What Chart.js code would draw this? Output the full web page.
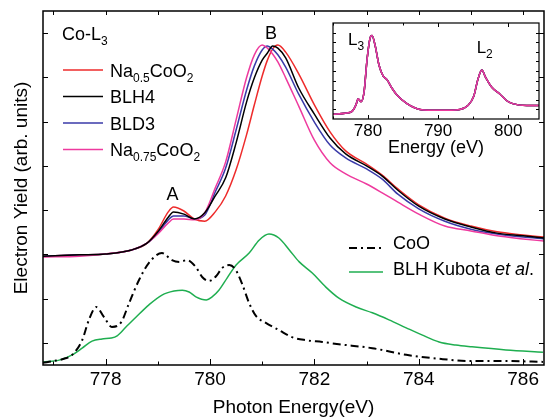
<!DOCTYPE html>
<html>
<head>
<meta charset="utf-8">
<script src="https://cdn.jsdelivr.net/npm/chart.js@4.4.1/dist/chart.umd.min.js"></script>
<style>
  html, body { margin: 0; padding: 0; background: #fff; }
  #wrap { position: relative; width: 549px; height: 419px; }
  #wrap canvas { position: absolute; left: 0; top: 0; }
</style>
</head>
<body>
<div id="wrap">
  <canvas id="main" width="549" height="419"></canvas>
  <canvas id="inset" width="549" height="419"></canvas>
</div>
<script>
// photon energy grid (eV) for the four Co-L3 spectra
const energy = [776.8, 777.5, 778.0, 778.5, 778.8, 779.0, 779.2, 779.3, 779.5, 779.7,
  779.9, 780.1, 780.3, 780.5, 780.7, 780.85, 781.0, 781.1, 781.2, 781.3,
  781.45, 781.7, 782.0, 782.3, 782.6, 783.0, 783.3, 783.6, 784.0, 784.5,
  785.0, 785.5, 786.0, 786.4];
const na05 = [1.96, 1.99, 2.01, 2.10, 2.26, 2.55, 2.96, 3.07, 2.98, 2.80,
  2.75, 2.96, 3.32, 3.91, 4.70, 5.38, 6.03, 6.39, 6.64, 6.73,
  6.57, 6.08, 5.38, 4.77, 4.34, 4.04, 3.79, 3.48, 3.12, 2.82,
  2.64, 2.51, 2.44, 2.39];
const blh4 = [1.96, 1.99, 2.01, 2.10, 2.26, 2.51, 2.84, 2.96, 2.91, 2.80,
  2.94, 3.32, 3.73, 4.52, 5.44, 5.99, 6.39, 6.55, 6.71, 6.66,
  6.44, 5.76, 5.17, 4.63, 4.27, 4.00, 3.77, 3.45, 3.09, 2.80,
  2.62, 2.48, 2.42, 2.37];
const bld3 = [1.96, 1.99, 2.01, 2.10, 2.26, 2.48, 2.78, 2.87, 2.87, 2.80,
  2.89, 3.41, 3.95, 4.81, 5.71, 6.26, 6.62, 6.71, 6.64, 6.51,
  6.23, 5.62, 4.99, 4.47, 4.18, 3.93, 3.70, 3.36, 3.03, 2.75,
  2.57, 2.46, 2.39, 2.35];
const na075 = [1.94, 1.96, 2.01, 2.10, 2.26, 2.46, 2.71, 2.80, 2.80, 2.78,
  2.94, 3.50, 4.09, 5.04, 5.99, 6.51, 6.73, 6.66, 6.53, 6.35,
  5.99, 5.35, 4.58, 4.07, 3.82, 3.59, 3.39, 3.18, 2.91, 2.64,
  2.53, 2.42, 2.35, 2.30];

// CoO reference
const cooEnergy = [776.8, 777.01, 777.2, 777.36, 777.55, 777.68, 777.82, 777.97, 778.12, 778.3,
  778.45, 778.64, 778.83, 779.08, 779.27, 779.41, 779.56, 779.73, 779.85, 779.98,
  780.12, 780.23, 780.37, 780.48, 780.61, 780.75, 780.88, 781.07, 781.32, 781.57,
  781.84, 782.15, 782.47, 783.11, 783.76, 784.39, 785.02, 785.67, 786.38];
const cooYield = [-0.45, -0.41, -0.36, -0.27, 0.06, 0.52, 0.81, 0.58, 0.36, 0.47,
  0.90, 1.42, 1.81, 2.03, 1.87, 1.83, 1.87, 1.71, 1.49, 1.40,
  1.51, 1.69, 1.76, 1.67, 1.35, 0.90, 0.61, 0.45, 0.29, 0.13,
  0.06, 0.02, -0.03, -0.12, -0.27, -0.36, -0.41, -0.41, -0.43];

// BLH, Kubota et al.
const kubotaEnergy = [776.8, 777.11, 777.36, 777.55, 777.74, 777.93, 778.11, 778.22, 778.39, 778.58,
  778.83, 779.08, 779.31, 779.47, 779.6, 779.73, 779.93, 780.04, 780.17, 780.33,
  780.5, 780.75, 780.94, 781.13, 781.32, 781.52, 781.71, 781.96, 782.22, 782.47,
  782.8, 783.11, 783.43, 783.76, 784.06, 784.39, 784.71, 785.02, 785.67, 786.38];
const kubotaYield = [-0.43, -0.39, -0.27, -0.12, 0.04, 0.09, 0.11, 0.16, 0.36, 0.58,
  0.86, 1.08, 1.17, 1.19, 1.15, 1.04, 0.97, 1.04, 1.19, 1.47,
  1.76, 2.03, 2.32, 2.46, 2.37, 2.10, 1.83, 1.58, 1.26, 1.01,
  0.81, 0.68, 0.52, 0.34, 0.18, 0.02, -0.05, -0.09, -0.16, -0.21];

// inset: full L3/L2 edge
const insetEnergy = [775.0, 776.73, 777.72, 778.29, 778.58, 779.0, 779.43, 779.86, 780.28, 780.57,
  781.0, 781.57, 782.14, 782.7, 783.42, 784.13, 785.56, 787.41, 790.26, 793.1,
  794.25, 795.1, 795.67, 796.24, 796.8, 797.66, 798.8, 799.8, 800.65, 802.65, 804.36];
const insetYield = [0.05, 0.06, 0.08, 0.15, 0.21, 0.18, 0.28, 0.62, 0.84, 0.87,
  0.77, 0.56, 0.45, 0.41, 0.32, 0.25, 0.16, 0.10, 0.09, 0.10,
  0.14, 0.24, 0.41, 0.51, 0.43, 0.33, 0.26, 0.19, 0.16, 0.14, 0.14];

const xTicks = [778, 780, 782, 784, 786];
const yTicks = [0, 1, 2, 3, 4, 5, 6, 7];
const insetTicks = [780, 790, 800];

const FONT = "'Liberation Sans', Arial, Helvetica, sans-serif";
Chart.defaults.font.family = FONT;
Chart.defaults.color = '#000';

const RED = '#ee2b2b', BLACK = '#000000', BLUE = '#3a3aa8', PINK = '#ee3a9e', GREEN = '#1fae50';

const pts = (xs, ys) => xs.map((x, i) => ({x: x, y: ys[i]}));

// text with _{sub} and *italic* parts
function drawRich(ctx, str, x, y, size) {
  const re = /_\{([^}]*)\}|\*([^*]*)\*|([^_*]+)/g;
  let m;
  while ((m = re.exec(str))) {
    let text, dy = 0;
    if (m[1] !== undefined) {
      text = m[1]; ctx.font = Math.round(size * 0.68) + 'px ' + FONT; dy = size * 0.3;
    } else if (m[2] !== undefined) {
      text = m[2]; ctx.font = 'italic ' + size + 'px ' + FONT;
    } else {
      text = m[3]; ctx.font = size + 'px ' + FONT;
    }
    ctx.fillText(text, x, y + dy);
    x += ctx.measureText(text).width;
  }
}

function frame(o) {
  return {
    id: 'frame',
    beforeDatasetsDraw(chart) {
      if (!o.fill) return;
      const a = chart.chartArea, ctx = chart.ctx;
      ctx.save();
      ctx.fillStyle = '#fff';
      ctx.fillRect(a.left, a.top, a.right - a.left, a.bottom - a.top);
      ctx.restore();
    },
    afterDatasetsDraw(chart) {
      const {ctx, chartArea: a} = chart;
      const x = chart.scales.x, y = chart.scales.y;
      ctx.save();
      ctx.strokeStyle = '#000';
      ctx.lineWidth = o.lw;
      ctx.strokeRect(a.left, a.top, a.right - a.left, a.bottom - a.top);
      ctx.lineWidth = 1;
      ctx.beginPath();
      o.bottom.forEach(([v, len]) => {
        const p = Math.round(x.getPixelForValue(v)) + 0.5;
        ctx.moveTo(p, a.bottom); ctx.lineTo(p, a.bottom - len);
      });
      o.top.forEach(([v, len]) => {
        const p = Math.round(x.getPixelForValue(v)) + 0.5;
        ctx.moveTo(p, a.top); ctx.lineTo(p, a.top + len);
      });
      o.side.forEach(([v, len]) => {
        const p = Math.round(y.getPixelForValue(v)) + 0.5;
        ctx.moveTo(a.left, p); ctx.lineTo(a.left + len, p);
        ctx.moveTo(a.right, p); ctx.lineTo(a.right - len, p);
      });
      ctx.stroke();
      ctx.restore();
    }
  };
}

const mainLegend = {
  id: 'mainLegend',
  afterDraw(chart) {
    const ctx = chart.ctx, ds = chart.data.datasets;
    const x = chart.scales.x, y = chart.scales.y;
    ctx.save();
    ctx.fillStyle = '#000';
    ctx.textBaseline = 'alphabetic';
    ctx.textAlign = 'left';
    drawRich(ctx, 'Co-L_{3}', 62, 40, 18);
    const rows = [[0, 70], [1, 96.5], [2, 123], [3, 149.5]];
    const lower = [[4, 248], [5, 272]];
    const sample = (d, x0, x1, yy) => {
      ctx.save();
      ctx.strokeStyle = d.borderColor;
      ctx.lineWidth = d.borderWidth || 1.5;
      ctx.setLineDash(d.borderDash || []);
      ctx.beginPath(); ctx.moveTo(x0, yy); ctx.lineTo(x1, yy); ctx.stroke();
      ctx.restore();
    };
    rows.forEach(([i, yy]) => {
      sample(ds[i], 63, 103, yy);
      drawRich(ctx, ds[i].label, 110, yy + 6.5, 18);
    });
    lower.forEach(([i, yy], k) => {
      sample(ds[i], 349, 383, yy);
      drawRich(ctx, ds[i].label, 393, k === 0 ? yy + 1 : yy + 3, 18);
    });
    // peak labels
    ctx.font = '18px ' + FONT;
    ctx.textAlign = 'center';
    ctx.fillText('A', x.getPixelForValue(779.28), y.getPixelForValue(3.23));
    ctx.fillText('B', x.getPixelForValue(781.17), y.getPixelForValue(6.87));
    ctx.restore();
  }
};

const insetLabels = {
  id: 'insetLabels',
  afterDraw(chart) {
    const ctx = chart.ctx, x = chart.scales.x, y = chart.scales.y;
    ctx.save();
    ctx.fillStyle = '#000';
    ctx.textAlign = 'left';
    drawRich(ctx, 'L_{3}', x.getPixelForValue(777.15), y.getPixelForValue(0.77), 17);
    drawRich(ctx, 'L_{2}', x.getPixelForValue(795.5), y.getPixelForValue(0.69), 17);
    ctx.restore();
  }
};

const mainTicksBottom = [];
const mainTicksTop = [];
for (let e = 777; e <= 786; e++) {
  mainTicksBottom.push([e, e % 2 === 0 ? 6 : 3.5]);
  mainTicksTop.push([e, 4]);
}

new Chart(document.getElementById('main'), {
  type: 'line',
  data: {
    datasets: [
      {label: 'Na_{0.5}CoO_{2}', data: pts(energy, na05), borderColor: RED, order: 4},
      {label: 'BLH4', data: pts(energy, blh4), borderColor: BLACK, order: 1},
      {label: 'BLD3', data: pts(energy, bld3), borderColor: BLUE, order: 3},
      {label: 'Na_{0.75}CoO_{2}', data: pts(energy, na075), borderColor: PINK, order: 2},
      {label: 'CoO', data: pts(cooEnergy, cooYield), borderColor: BLACK, borderWidth: 2, borderDash: [8, 4, 2, 4], order: 5},
      {label: 'BLH Kubota *et al*.', data: pts(kubotaEnergy, kubotaYield), borderColor: GREEN, order: 6}
    ]
  },
  options: {
    responsive: false,
    animation: false,
    layout: {padding: {top: 11, right: 5, left: 0, bottom: 0}},
    elements: {
      point: {radius: 0},
      line: {borderWidth: 1.5, cubicInterpolationMode: 'monotone', fill: false}
    },
    plugins: {legend: {display: false}, tooltip: {enabled: false}},
    scales: {
      x: {
        type: 'linear', min: 776.8, max: 786.4,
        grid: {display: false, drawTicks: false},
        border: {display: false},
        afterBuildTicks: s => { s.ticks = xTicks.map(v => ({value: v})); },
        afterFit: s => { s.height = 54; },
        ticks: {font: {size: 19}, padding: 3, color: '#000'},
        title: {display: true, text: 'Photon Energy(eV)', font: {size: 19}, color: '#000', padding: {top: 0, bottom: 0}}
      },
      y: {
        type: 'linear', min: -0.5, max: 7.5,
        grid: {display: false, drawTicks: false},
        border: {display: false},
        afterBuildTicks: s => { s.ticks = yTicks.map(v => ({value: v})); },
        afterFit: s => { s.width = 43; },
        ticks: {display: false},
        title: {display: true, text: 'Electron Yield (arb. units)', font: {size: 19}, color: '#000', padding: {top: 10, bottom: 0}}
      }
    }
  },
  plugins: [frame({lw: 1.5, bottom: mainTicksBottom, top: mainTicksTop, side: yTicks.map(v => [v, 5])}), mainLegend]
});

const insetBottom = [775, 780, 785, 790, 795, 800].map(v => [v, v % 10 === 0 ? 4 : 2.5]);
const insetSide = [0.1, 0.2, 0.3, 0.4, 0.5, 0.6, 0.7, 0.8, 0.9].map(v => [v, 3]);

new Chart(document.getElementById('inset'), {
  type: 'line',
  data: {
    datasets: [
      {label: 'Na0.5CoO2', data: pts(insetEnergy, insetYield), borderColor: RED},
      {label: 'BLH4', data: pts(insetEnergy, insetYield), borderColor: BLACK},
      {label: 'BLD3', data: pts(insetEnergy, insetYield), borderColor: BLUE},
      {label: 'Na0.75CoO2', data: pts(insetEnergy, insetYield), borderColor: PINK}
    ].map((d, i) => Object.assign(d, {order: 4 - i}))
  },
  options: {
    responsive: false,
    animation: false,
    layout: {padding: {top: 23, right: 10, left: 333, bottom: 260}},
    elements: {
      point: {radius: 0},
      line: {borderWidth: 1.5, cubicInterpolationMode: 'monotone', fill: false}
    },
    plugins: {legend: {display: false}, tooltip: {enabled: false}},
    scales: {
      x: {
        type: 'linear', min: 775, max: 804.4,
        grid: {display: false, drawTicks: false},
        border: {display: false},
        afterBuildTicks: s => { s.ticks = insetTicks.map(v => ({value: v})); },
        afterFit: s => { s.height = 40; },
        ticks: {font: {size: 17}, padding: 2, color: '#000'},
        title: {display: true, text: 'Energy (eV)', font: {size: 18}, color: '#000', padding: {top: 0, bottom: 0}}
      },
      y: {type: 'linear', display: false, min: 0, max: 1}
    }
  },
  plugins: [frame({lw: 1.2, fill: true, bottom: insetBottom, top: insetBottom, side: insetSide}), insetLabels]
});
</script>
</body>
</html>
